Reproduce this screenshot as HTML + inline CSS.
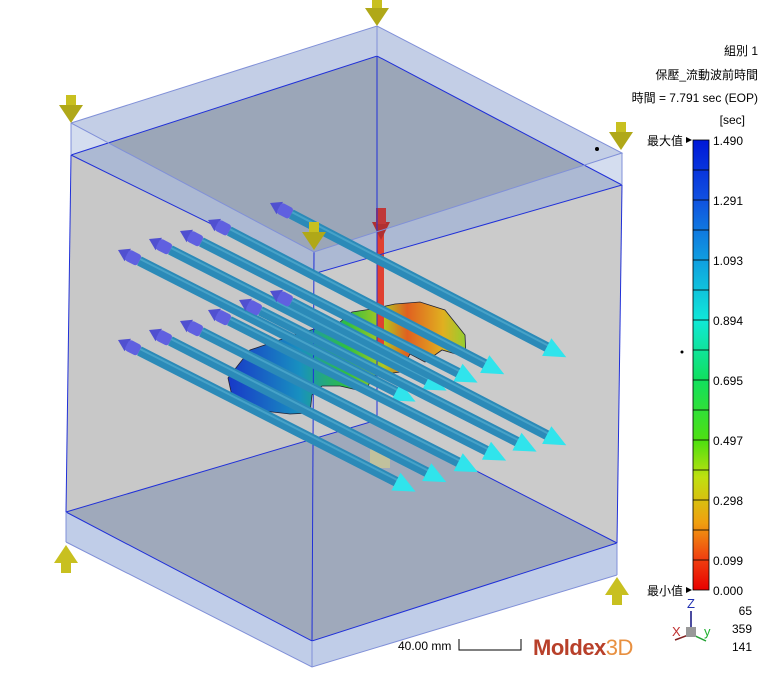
<!DOCTYPE html>
<html><head><meta charset="utf-8"><style>
html,body{margin:0;padding:0;background:#fff;}
svg{display:block;}
text{font-family:"Liberation Sans","Noto Sans CJK TC",sans-serif;}
</style></head><body>
<svg width="779" height="676" viewBox="0 0 779 676" xmlns="http://www.w3.org/2000/svg">
<defs>
<linearGradient id="cb" x1="0" y1="0" x2="0" y2="1">
<stop offset="0" stop-color="#0018d8"/>
<stop offset="0.13" stop-color="#1050e0"/>
<stop offset="0.27" stop-color="#10a0e0"/>
<stop offset="0.4" stop-color="#10e8d8"/>
<stop offset="0.53" stop-color="#10e060"/>
<stop offset="0.67" stop-color="#50e010"/>
<stop offset="0.75" stop-color="#c0e010"/>
<stop offset="0.85" stop-color="#f0a010"/>
<stop offset="0.93" stop-color="#f04010"/>
<stop offset="1" stop-color="#e80000"/>
</linearGradient>
<linearGradient id="pg" x1="228" y1="0" x2="467" y2="0" gradientUnits="userSpaceOnUse">
<stop offset="0" stop-color="#1838c8"/>
<stop offset="0.3" stop-color="#1890c0"/>
<stop offset="0.5" stop-color="#30c040"/>
<stop offset="0.65" stop-color="#b0c820"/>
<stop offset="0.75" stop-color="#e06020"/>
<stop offset="0.9" stop-color="#e0b020"/>
<stop offset="1" stop-color="#90d030"/>
</linearGradient>
<g id="rod">
<polygon points="0,0 11,-7 11,7" fill="#5050d0"/>
<rect x="10" y="-6" width="14" height="12" rx="3" fill="#6060e0"/>
<line x1="24" y1="0" x2="314" y2="0" stroke="#2b8ab8" stroke-width="10"/>
<line x1="24" y1="-2" x2="314" y2="-2" stroke="#46a2c8" stroke-width="2"/>
<polygon points="334,0 312,-10 312,10" fill="#30e4ec"/>
</g>
<g id="ydown"><rect x="-5" y="0" width="10" height="12" fill="#c8c020"/><polygon points="-12,10 12,10 0,28" fill="#b0a818"/></g>
<g id="yup"><rect x="-5" y="16" width="10" height="12" fill="#c8c020"/><polygon points="-12,18 12,18 0,0" fill="#c8c020"/></g>
</defs>

<polygon points="71,123 377,26 622,153 314,252" fill="#c3cee6"/>
<polygon points="71,155 377,56 622,185 313,274" fill="#9ba6b8"/>
<polygon points="71,155 313,274 312,641 66,512" fill="#c8c8c8"/>
<polygon points="313,274 622,185 617,543 312,641" fill="#cbcbcb"/>
<polygon points="66,512 377,420 617,543 312,641" fill="#9fa9bb"/>
<polygon points="71,123 314,252 313,274 71,155" fill="#b8c6e4" opacity="0.6"/>
<polygon points="314,252 622,153 622,185 313,274" fill="#b8c6e4" opacity="0.6"/>
<polygon points="66,512 312,641 312,667 66,542" fill="#c0cde8"/>
<polygon points="312,641 617,543 617,575 312,667" fill="#c0cde8"/>

<polygon points="228,378 250,350 300,333 340,322 352,312 372,309 395,304 420,302 445,310 465,335 466,357 442,350 425,362 410,354 400,372 372,376 366,392 340,386 322,386 312,395 310,413 290,414 255,410 232,396" fill="url(#pg)" stroke="#223" stroke-width="0.8"/>
<rect x="377" y="210" width="7" height="135" fill="#e04030"/>
<polygon points="372,222 390,222 381,240" fill="#b03030"/>
<rect x="376" y="208" width="10" height="16" fill="#c03838"/>
<path d="M370 450 q10 -10 20 0 l0 18 l-20 0z" fill="#d0cc90" opacity="0.7"/>

<g stroke="#2030d8" stroke-width="1" fill="none">
<polyline points="71,155 377,56 622,185"/>
<polyline points="71,155 313,274 622,185"/>
<line x1="377" y1="56" x2="377" y2="420"/>
<polyline points="66,512 377,420 617,543"/>
<polyline points="66,512 312,641 617,543"/>
<line x1="71" y1="155" x2="66" y2="512"/>
<line x1="314" y1="252" x2="312" y2="641"/>
<line x1="622" y1="185" x2="617" y2="543"/>
</g>
<g stroke="#8090d8" stroke-width="1" fill="none">
<polyline points="71,123 377,26 622,153 314,252 71,123"/>
<line x1="377" y1="26" x2="377" y2="56"/>
<line x1="71" y1="123" x2="71" y2="155"/>
<line x1="622" y1="153" x2="622" y2="185"/>
<polyline points="66,542 312,667 617,575"/>
<line x1="66" y1="512" x2="66" y2="542"/>
<line x1="617" y1="543" x2="617" y2="575"/>
<line x1="312" y1="641" x2="312" y2="667"/>
</g>

<use href="#rod" transform="translate(270,203) rotate(27.5)"/>
<use href="#rod" transform="translate(208,220) rotate(27.5)"/>
<use href="#rod" transform="translate(180,231) rotate(27)"/>
<use href="#rod" transform="translate(149,239) rotate(27)"/>
<use href="#rod" transform="translate(118,250) rotate(27)"/>
<use href="#rod" transform="translate(270,291) rotate(27.5)"/>
<use href="#rod" transform="translate(239,300) rotate(27)"/>
<use href="#rod" transform="translate(208,310) rotate(26.8)"/>
<use href="#rod" transform="translate(180,321) rotate(26.9)"/>
<use href="#rod" transform="translate(149,330) rotate(27.1)"/>
<use href="#rod" transform="translate(118,340) rotate(27)"/>

<use href="#ydown" transform="translate(377,-2)"/>
<use href="#ydown" transform="translate(71,95)"/>
<use href="#ydown" transform="translate(621,122)"/>
<use href="#ydown" transform="translate(314,222)"/>
<use href="#yup" transform="translate(66,545)"/>
<use href="#yup" transform="translate(617,577)"/>
<circle cx="597" cy="149" r="2" fill="#000"/>
<circle cx="682" cy="352" r="1.5" fill="#000"/>

<g font-size="12" fill="#000" text-anchor="end">
<text x="758" y="55">組別 1</text>
<text x="758" y="79">保壓_流動波前時間</text>
<text x="758" y="102">時間 = 7.791 sec (EOP)</text>
<text x="745" y="124">[sec]</text>
<text x="683" y="145">最大值</text>
<text x="683" y="595">最小值</text>
</g>
<polygon points="686,137 692,140 686,143" fill="#000"/>
<polygon points="686,587 692,590 686,593" fill="#000"/>
<rect x="693" y="140" width="16" height="450" fill="url(#cb)" stroke="#000" stroke-width="0.8"/>
<g stroke="#000" stroke-width="0.8">
<line x1="693" y1="170" x2="709" y2="170"/><line x1="693" y1="200" x2="709" y2="200"/><line x1="693" y1="230" x2="709" y2="230"/><line x1="693" y1="260" x2="709" y2="260"/><line x1="693" y1="290" x2="709" y2="290"/><line x1="693" y1="320" x2="709" y2="320"/><line x1="693" y1="350" x2="709" y2="350"/><line x1="693" y1="380" x2="709" y2="380"/><line x1="693" y1="410" x2="709" y2="410"/><line x1="693" y1="440" x2="709" y2="440"/><line x1="693" y1="470" x2="709" y2="470"/><line x1="693" y1="500" x2="709" y2="500"/><line x1="693" y1="530" x2="709" y2="530"/><line x1="693" y1="560" x2="709" y2="560"/>
</g>
<g font-size="12" fill="#000">
<text x="713" y="145">1.490</text>
<text x="713" y="205">1.291</text>
<text x="713" y="265">1.093</text>
<text x="713" y="325">0.894</text>
<text x="713" y="385">0.695</text>
<text x="713" y="445">0.497</text>
<text x="713" y="505">0.298</text>
<text x="713" y="565">0.099</text>
<text x="713" y="595">0.000</text>
</g>
<line x1="691" y1="611" x2="691" y2="632" stroke="#101080" stroke-width="1.5"/>
<line x1="691" y1="634" x2="706" y2="641" stroke="#20a030" stroke-width="1.5"/>
<line x1="691" y1="634" x2="675" y2="640" stroke="#802020" stroke-width="1.5"/>
<rect x="686" y="627" width="10" height="10" fill="#999"/>
<text x="687" y="608" font-size="13" fill="#2030b0">Z</text>
<text x="672" y="636" font-size="13" fill="#c03030">X</text>
<text x="704" y="636" font-size="13" fill="#20b030">y</text>
<g font-size="12" fill="#000" text-anchor="end">
<text x="752" y="615">65</text>
<text x="752" y="633">359</text>
<text x="752" y="651">141</text>
</g>
<text x="398" y="650" font-size="12" fill="#000">40.00 mm</text>
<polyline points="459,639 459,650 521,650 521,639" fill="none" stroke="#000" stroke-width="1"/>
<text x="533" y="655" font-size="22" font-weight="bold" fill="#b8402a" letter-spacing="-0.5">Moldex<tspan fill="#e89040" font-weight="normal">3D</tspan></text>
</svg>
</body></html>
